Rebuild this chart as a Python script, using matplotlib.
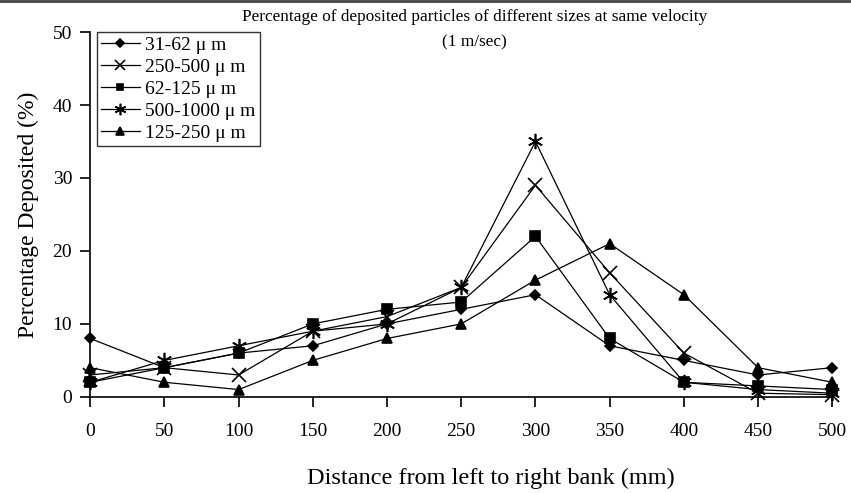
import matplotlib
matplotlib.use("Agg")
import matplotlib.pyplot as plt
from matplotlib.lines import Line2D

plt.rcParams["font.family"] = ["Liberation Serif", "DejaVu Serif"]

distance = [0, 50, 100, 150, 200, 250, 300, 350, 400, 450, 500]

# percentage deposited per size class
s_31_62 = [8, 4, 6, 7, 10, 12, 14, 7, 5, 3, 4]
s_250_500 = [3, 4, 3, 9, 11, 15, 29, 17, 6, 0.5, 0.3]
s_62_125 = [2, 4, 6, 10, 12, 13, 22, 8, 2, 1.5, 1]
s_500_1000 = [2, 5, 7, 9, 10, 15, 35, 14, 2, 1, 0.5]
s_125_250 = [4, 2, 1, 5, 8, 10, 16, 21, 14, 4, 2]

labels = ["31-62 \u03bc m", "250-500 \u03bc m", "62-125 \u03bc m",
          "500-1000 \u03bc m", "125-250 \u03bc m"]
series = [s_31_62, s_250_500, s_62_125, s_500_1000, s_125_250]
markers = ["D", "x", "s", (6, 2, 0), "^"]
msizes = [5.5, 10, 6.5, 11, 7]

fig = plt.figure(figsize=(8.51, 4.93), dpi=100)
ax = fig.add_axes([0.106, 0.195, 0.872, 0.740])

for y, lab, m, ms in zip(series, labels, markers, msizes):
    ax.plot(distance, y, color="black", lw=0.9, marker=m, ms=ms,
            mew=1.2, mfc="black", mec="black", label=lab, clip_on=False)

ax.set_xlim(0, 500)
ax.set_ylim(0, 50)
ax.set_xticks(distance)
ax.set_yticks([0, 10, 20, 30, 40, 50])
ax.tick_params(direction="out", length=7, width=1.2, labelsize=14, pad=12)
ax.tick_params(axis="y", pad=6)
for side in ["top", "right"]:
    ax.spines[side].set_visible(False)
for side in ["left", "bottom"]:
    ax.spines[side].set_linewidth(1.2)

ax.set_xlabel("Distance from left to right bank (mm)", fontsize=17.5, labelpad=20)
ax.xaxis.label.set_x(0.54)
ax.set_ylabel("Percentage Deposited (%)", fontsize=17, labelpad=10)

fig.text(0.558, 0.965, "Percentage of deposited particles of different sizes at same velocity",
         ha="center", va="center", fontsize=12.4)
fig.text(0.558, 0.915, "(1 m/sec)", ha="center", va="center", fontsize=12.4)

leg = ax.legend(loc="upper left", bbox_to_anchor=(0.009, 1.0), fontsize=14,
                frameon=True, fancybox=False, borderpad=0.2, labelspacing=0.23,
                handlelength=2.0, handletextpad=0.3, borderaxespad=0.0,
                markerscale=0.75)
leg.get_frame().set_edgecolor("black")
leg.get_frame().set_linewidth(1.0)

# thin frame line along the top of the image
fig.add_artist(Line2D([0, 1], [0.997, 0.997], transform=fig.transFigure,
                      color="#444444", lw=2))

fig.savefig("out.png", dpi=100)
